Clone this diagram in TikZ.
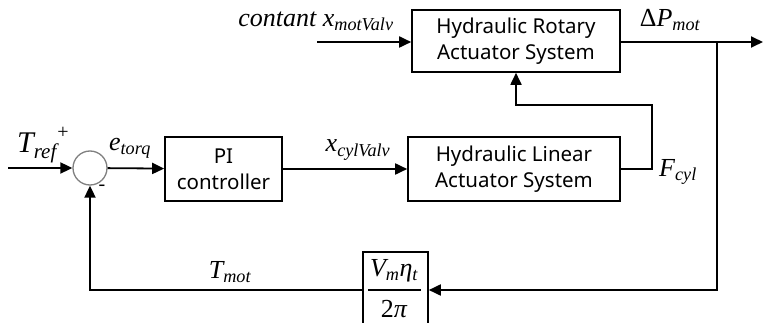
\documentclass[tikz,border=0pt]{standalone}
\usepackage{fontspec}
\setmainfont{Liberation Serif}
\newfontfamily\boxfont{Noto Sans}
\usetikzlibrary{arrows.meta}
\newcommand\lsub[1]{\textsubscript{#1}}
\begin{document}
\begin{tikzpicture}[x=1pt,y=-1pt, line width=1.8pt, line join=miter,
  blk/.style={draw, line width=1.6pt, font=\boxfont\fontsize{20.5}{26}\selectfont, align=center, inner sep=0pt},
  arr/.style={-{Triangle[length=12pt,width=11pt]}},
  lab/.style={font=\itshape\fontsize{26}{30}\selectfont, inner sep=0pt},
  sgn/.style={font=\fontsize{20}{20}\selectfont, inner sep=0pt}]
\clip (0,0) rectangle (763,323);
\fill[white] (0,0) rectangle (763,323);
% blocks
\node[blk, minimum width=117pt, minimum height=64pt] (pi) at (223.5,169) {PI\\controller};
\node[blk, minimum width=212pt, minimum height=64pt] (hlas) at (514,169) {Hydraulic Linear\\Actuator System};
\node[blk, minimum width=208pt, minimum height=62pt] (hras) at (516,41) {Hydraulic Rotary\\Actuator System};
\node[circle, draw=gray, line width=1.3pt, minimum size=34pt, inner sep=0pt] (sum) at (90,168) {};
\node[draw, line width=1.6pt, minimum width=65pt, minimum height=76pt, inner sep=0pt] (gain) at (395.5,290) {};
\node[lab] (num) at (394,271) {V\lsub{m}η\lsub{t}};
\node[lab] (den) at (394,309) {\upshape 2\itshape π};
\draw[line width=1.6pt] (368,290) coordinate (fl) -- (421,290) coordinate (fr);
% free ends
\coordinate (in) at (8,168);
\coordinate (cin) at (317,42);
\coordinate (out) at (763,42);
\coordinate (br) at (717,42);
\coordinate (fu) at (652,105);
% connectors
\draw[arr] (in) -- (sum);
\draw[arr] (sum) -- (pi);
\draw[arr] (pi) -- (hlas);
\draw[arr] (hlas.east) -- (hlas.east -| fu) -- (fu) -| (hras.south);
\draw[arr] (cin) -- (cin -| hras.west);
\draw[arr] (hras.east |- out) -- (out);
\draw[arr] (br) |- (gain.east);
\draw[arr] (gain.west) -| (sum.south);
% labels
\node[lab, font=\itshape\fontsize{30}{32}\selectfont] (tref) at (37,148) {T\lsub{ref}};
\node[sgn] (plus) at (63,133) {+};
\node[sgn] (minus) at (102,188) {-};
\node[lab] (etorq) at (130,148) {e\lsub{torq}};
\node[lab] (xcyl) at (358,150) {x\lsub{cylValv}};
\node[lab] (cont) at (316,21) {contant x\lsub{motValv}};
\node[lab] (dp) at (670,20) {\upshape Δ\itshape P\lsub{mot}};
\node[lab] (fcyl) at (678,172) {F\lsub{cyl}};
\node[lab] (tmot) at (230,272) {T\lsub{mot}};
\end{tikzpicture}
\end{document}
